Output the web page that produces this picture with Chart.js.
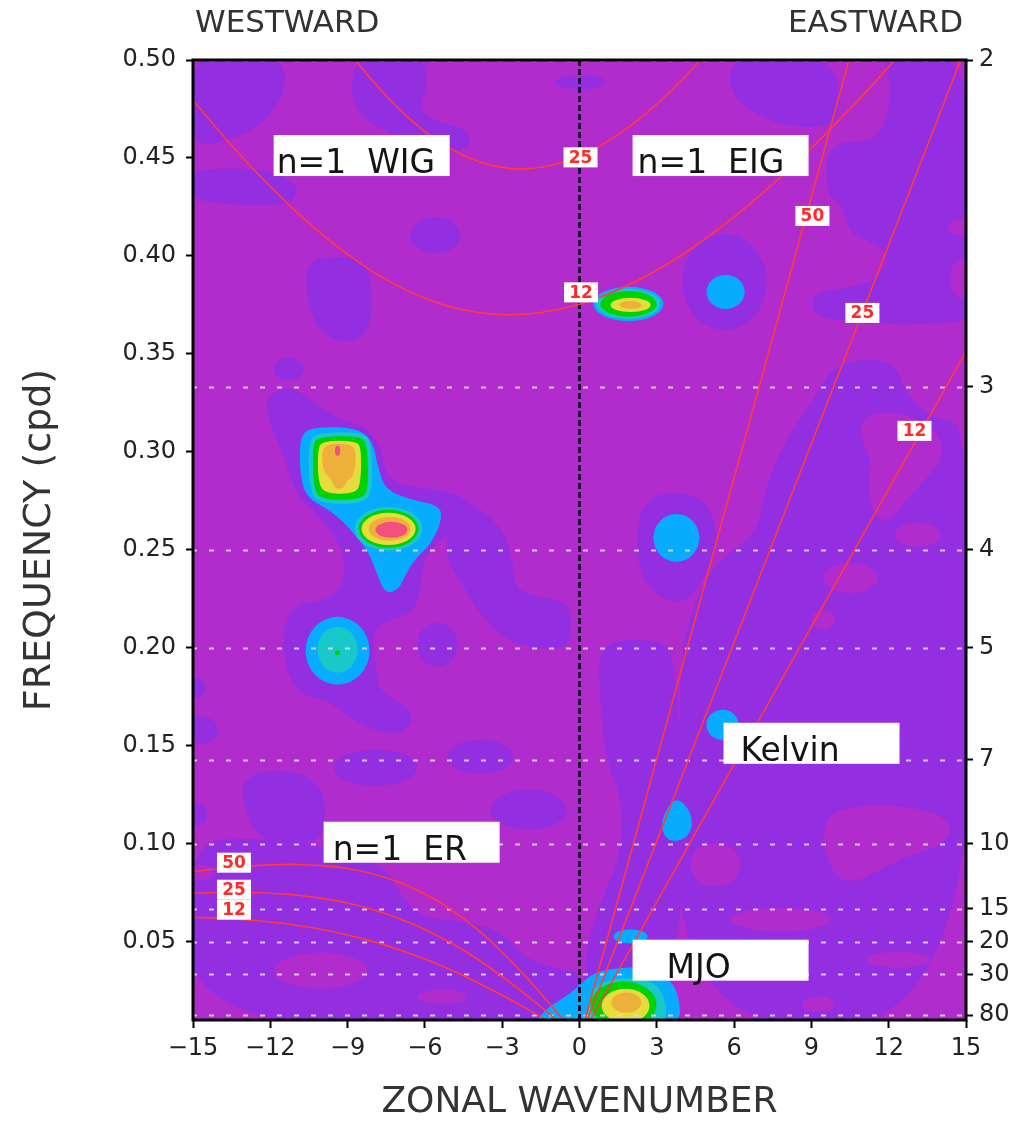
<!DOCTYPE html>
<html>
<head>
<meta charset="utf-8">
<script src="https://cdn.jsdelivr.net/npm/chart.js@4.4.1/dist/chart.umd.min.js"></script>
<style>
  html, body { margin: 0; padding: 0; background: #ffffff; }
  canvas { display: block; }
</style>
</head>
<body>
<canvas id="wk" width="1014" height="1121"></canvas>
<script>
// ---------- axes ----------
const wavenumberTicks = [-15, -12, -9, -6, -3, 0, 3, 6, 9, 12, 15];
const frequencyTicks = [0.05, 0.10, 0.15, 0.20, 0.25, 0.30, 0.35, 0.40, 0.45, 0.50];
const periodDays = [2, 3, 4, 5, 7, 10, 15, 20, 30, 80];

// ---------- dispersion curves, [zonal wavenumber, frequency cpd] ----------
const kelvinH12 = [[0, 0], [15, 0.3513]];
const kelvinH25 = [[0, 0], [15, 0.5070]];
const kelvinH50 = [[0, 0], [11, 0.5258]];

const erH12 = [[0,0],[-1,0.0078],[-2,0.0154],[-3,0.0226],[-4,0.0294],[-5,0.0356],[-6,0.0411],[-7,0.0459],[-8,0.0500],[-9,0.0534],[-10,0.0562],[-11,0.0584],[-12,0.0600],[-13,0.0612],[-14,0.0620],[-15,0.0624],[-16,0.0626]];
const erH25 = [[0,0],[-1,0.0112],[-2,0.0220],[-3,0.0322],[-4,0.0414],[-5,0.0494],[-6,0.0562],[-7,0.0618],[-8,0.0663],[-9,0.0697],[-10,0.0721],[-11,0.0738],[-12,0.0747],[-13,0.0751],[-14,0.0751],[-15,0.0746],[-16,0.0739]];
const erH50 = [[0,0],[-1,0.0158],[-2,0.0309],[-3,0.0446],[-4,0.0566],[-5,0.0665],[-6,0.0743],[-7,0.0803],[-8,0.0845],[-9,0.0873],[-10,0.0888],[-11,0.0894],[-12,0.0892],[-13,0.0884],[-14,0.0872],[-15,0.0857],[-16,0.0840]];

const igH12 = [[-16,0.4958],[-15,0.4795],[-13.5,0.4564],[-12,0.4354],[-10.5,0.4167],[-9,0.4008],[-7.5,0.3879],[-6,0.3784],[-4.5,0.3724],[-3,0.3700],[-1.5,0.3711],[0,0.3753],[1.5,0.3827],[3,0.3927],[4.5,0.4052],[6,0.4199],[7.5,0.4366],[9,0.4551],[10.5,0.4751],[12,0.4965],[13,0.5114]];
const igH25 = [[-9,0.5050],[-8,0.4889],[-7,0.4749],[-6,0.4635],[-5,0.4547],[-4,0.4486],[-3,0.4452],[-2,0.4445],[-1,0.4465],[0,0.4509],[1,0.4577],[2,0.4666],[3,0.4775],[4,0.4902],[5,0.5046],[6,0.5204]];

// ---------- normalized power field, contour regions per level ----------
// polygon: [[k, cpd], ...]   ellipse: [k, cpd, half-width k, half-height cpd]
const levelPurple = [
  [[-15.3,0.503],[-11.5,0.503],[-11.4,0.484],[-12.1,0.470],[-13.2,0.460],[-15.3,0.455]],
  [[-15.3,0.444],[-12.8,0.445],[-11.4,0.441],[-10.9,0.434],[-11.2,0.4265],[-12.8,0.4255],[-15.3,0.4286]],
  [[-8.7,0.503],[-6.0,0.503],[-5.9,0.485],[-6.25,0.4735],[-5.4,0.468],[-4.4,0.465],[-4.2,0.458],[-4.7,0.4525],[-5.8,0.454],[-7.1,0.461],[-8.3,0.469],[-8.9,0.480]],
  [-5.59,0.4107,0.97,0.0092],
  [[-10.6,0.397],[-9.5,0.4005],[-8.3,0.397],[-8.0,0.380],[-8.2,0.360],[-9.1,0.355],[-10.1,0.361],[-10.6,0.378]],
  [-11.29,0.3423,0.58,0.0056],
  [[-12.18,0.3276],[-11.41,0.3337],[-10.63,0.3291],[-9.47,0.3173],[-8.30,0.3128],[-7.72,0.3036],[-7.61,0.2908],[-7.02,0.2827],[-5.39,0.2806],[-4.42,0.2765],[-4.15,0.2679],[-4.54,0.2602],[-5.39,0.2551],[-5.98,0.2474],[-6.17,0.2321],[-6.36,0.2184],[-7.33,0.2143],[-8.03,0.2092],[-7.92,0.1939],[-7.80,0.1786],[-7.14,0.1735],[-6.48,0.1673],[-6.56,0.1582],[-7.53,0.1556],[-8.69,0.1622],[-9.66,0.1724],[-10.83,0.1760],[-11.41,0.1888],[-11.53,0.2092],[-11.14,0.2219],[-9.66,0.2245],[-9.08,0.2347],[-9.16,0.2500],[-9.97,0.2653],[-10.83,0.2755],[-11.21,0.2857],[-11.49,0.2985],[-12.07,0.3163]],
  [[-4.54,0.2755],[-3.65,0.2694],[-2.87,0.2577],[-2.6,0.2449],[-2.48,0.2296],[-1.51,0.2255],[-0.47,0.2235],[-0.27,0.2117],[-0.47,0.199],[-1.9,0.2],[-2.87,0.2041],[-3.84,0.2168],[-4.42,0.2296],[-5.08,0.2423],[-5.2,0.2551],[-4.81,0.2653]],
  [-5.51,0.2015,0.78,0.0112],
  [-14.7,0.158,0.66,0.0071],
  [-14.9,0.1796,0.39,0.0051],
  [[-13.16,0.1301],[-12.38,0.1378],[-10.83,0.1367],[-9.93,0.1276],[-9.86,0.1122],[-10.05,0.1010],[-11.6,0.0995],[-12.57,0.1046],[-12.96,0.1173]],
  [-7.92,0.1388,1.63,0.0092],
  [-3.84,0.1444,1.28,0.0087],
  [-1.98,0.1173,1.47,0.0102],
  [-14.9,0.1148,0.45,0.006],
  [[-15.3,0.1010],[-12.57,0.1031],[-10.05,0.0995],[-8.69,0.0929],[-7.53,0.0878],[-6.95,0.0740],[-6.17,0.0622],[-4.23,0.0602],[-2.87,0.0536],[-2.29,0.0434],[-1.13,0.0367],[0.23,0.0347],[0.23,0.005],[-15.3,0.005]],
  [0.04,0.4888,0.97,0.0036],
  [[5.78,0.4939],[6.3,0.503],[9.5,0.503],[10.21,0.4847],[9.97,0.4704],[9.74,0.4658],[7.99,0.4658],[6.71,0.4735],[5.94,0.4816]],
  [[11.68,0.503],[15.2,0.503],[15.2,0.4194],[14.40,0.4184],[14.20,0.4122],[15.2,0.4092],[15.2,0.3990],[14.40,0.3969],[14.40,0.3796],[15.2,0.3776],[15.2,0.3663],[12.46,0.3648],[10.90,0.3663],[9.08,0.3684],[9.00,0.3816],[10.52,0.3837],[11.68,0.3888],[11.99,0.4020],[11.29,0.4071],[10.44,0.4122],[10.24,0.4260],[9.62,0.4306],[9.55,0.4490],[9.97,0.4577],[10.90,0.4582],[11.68,0.4617],[11.99,0.4745],[12.07,0.4898]],
  [5.63,0.3867,1.63,0.0245],
  [[9.93,0.3459],[12.18,0.348],[12.65,0.3291],[13.81,0.3163],[15.2,0.3138],[15.2,0.005],[3.76,0.005],[3.84,0.1888],[4.31,0.2179],[4.97,0.2362],[5.55,0.2459],[6.91,0.2587],[7.22,0.2821],[7.99,0.3061],[9.04,0.3255]],
  [[0.70,0.2026],[2.76,0.2051],[3.92,0.1964],[4.0,0.005],[0.23,0.005],[0.16,0.0408],[0.81,0.0714],[1.59,0.0918],[1.67,0.1224],[1.01,0.1429],[0.81,0.1735]],
  [[2.76,0.2781],[4.31,0.2796],[5.16,0.2704],[5.39,0.2526],[4.89,0.2372],[4.31,0.2245],[3.45,0.2230],[2.56,0.2321],[2.21,0.2474],[2.25,0.2653]]
];
// low-power pockets lying inside the purple areas
const levelMagenta = [
  [-10.05,0.0352,1.82,0.0092],
  [-5.32,0.0219,0.97,0.0036],
  [-14.7,0.0852,0.54,0.0041],
  [[10.98,0.3189],[12.46,0.3204],[13.81,0.3122],[14.2,0.2985],[13.43,0.2857],[12.65,0.2755],[12.18,0.2653],[11.49,0.2653],[11.14,0.2806],[11.37,0.2949],[10.9,0.3071]],
  [13.12,0.2577,0.89,0.0061],
  [10.52,0.2357,1.05,0.0077],
  [9.47,0.2143,0.47,0.0051],
  [[9.62,0.1163],[11.29,0.1199],[13.23,0.1184],[14.47,0.1112],[14.2,0.0995],[12.84,0.0944],[11.68,0.0867],[10.44,0.0791],[9.74,0.0867],[9.43,0.1020]],
  [5.28,0.0893,0.97,0.0112],
  [7.80,0.0612,1.94,0.0061],
  [12.38,0.0408,1.24,0.0041],
  [9.27,0.0179,0.62,0.0041]
];
const levelBlue = [
  [[-10.83,0.3102],[-10.05,0.3128],[-8.69,0.3122],[-8.03,0.3061],[-7.80,0.2908],[-7.53,0.2806],[-6.56,0.2755],[-5.39,0.2724],[-5.36,0.2643],[-5.78,0.2526],[-6.36,0.2459],[-6.75,0.2372],[-7.02,0.2296],[-7.53,0.2276],[-7.80,0.2357],[-8.19,0.2490],[-8.69,0.2571],[-9.16,0.2643],[-9.74,0.2704],[-10.63,0.2770],[-10.87,0.2908]],
  [-9.39,0.1985,1.24,0.0173],
  [1.90,0.3755,1.36,0.0087],
  [5.67,0.3816,0.74,0.0087],
  [3.76,0.2561,0.89,0.0122],
  [5.55,0.1607,0.62,0.0077],
  [[3.76,0.1235],[4.23,0.1184],[4.42,0.1097],[4.11,0.1020],[3.45,0.1010],[3.14,0.1082],[3.34,0.1173]],
  [1.98,0.0526,0.66,0.0036],
  [[-1.98,0.005],[-1.32,0.0153],[-0.74,0.0204],[-0.16,0.0255],[0.43,0.0332],[1.20,0.0362],[2.37,0.0372],[3.34,0.0332],[3.88,0.0230],[3.92,0.005]]
];
const levelTeal = [
  [[-10.21,0.3097],[-8.42,0.3102],[-8.07,0.3046],[-8.03,0.2796],[-8.42,0.2735],[-10.05,0.2735],[-10.48,0.2796],[-10.52,0.3046]],
  [-7.41,0.2607,1.32,0.0112],
  [-9.39,0.1990,0.78,0.0117],
  [1.90,0.3755,1.24,0.0077],
  [[0.27,0.005],[0.35,0.0245],[1.13,0.0311],[2.56,0.0316],[3.30,0.0245],[3.42,0.005]]
];
const levelGreen = [
  [[-10.13,0.3077],[-8.50,0.3082],[-8.23,0.3036],[-8.19,0.2806],[-8.50,0.2755],[-9.97,0.2755],[-10.32,0.2806],[-10.36,0.3036]],
  [-7.41,0.2607,1.16,0.0097],
  [-9.39,0.1975,0.1,0.0012],
  [1.90,0.3755,1.09,0.0066],
  [1.71,0.0179,1.28,0.0117]
];
const levelYellow = [
  [[-9.97,0.3056],[-8.65,0.3056],[-8.46,0.3010],[-8.50,0.2821],[-8.81,0.2786],[-9.78,0.2786],[-10.13,0.2827],[-10.17,0.3010]],
  [-7.41,0.2607,1.05,0.0082],
  [1.98,0.3750,0.78,0.0036],
  [1.79,0.0173,0.93,0.0087]
];
const levelOrange = [
  [[-9.86,0.3041],[-8.81,0.3041],[-8.65,0.2985],[-8.77,0.2872],[-9.04,0.2852],[-9.16,0.2811],[-9.51,0.2811],[-9.62,0.2862],[-9.93,0.2893],[-10.01,0.2985]],
  [-7.37,0.2607,0.81,0.0061],
  [1.98,0.375,0.43,0.002],
  [1.82,0.0189,0.58,0.0051]
];
const levelRed = [
  [-9.39,0.3005,0.1,0.0026],
  [-7.30,0.2602,0.62,0.0041]
];

// ---------- text ----------
const regionNames = ['n=1  WIG', 'n=1  EIG', 'n=1  ER', 'Kelvin', 'MJO'];
const depthNames = ['25', '12', '50', '25', '12', '50', '25', '12'];

// ---------- styling / placement ----------
const FONT = "'DejaVu Sans', 'Liberation Sans', sans-serif";
const FIELD_BASE = '#b12ccd';
const FIELD_LAYERS = [
  [levelPurple, '#932fe0'],
  [levelMagenta, '#b12ccd'],
  [levelBlue, '#08acff'],
  [levelTeal, '#19c8c8'],
  [levelGreen, '#00d200'],
  [levelYellow, '#e6dc3c'],
  [levelOrange, '#eeb03a'],
  [levelRed, '#f2507e']
];
const regionBoxAnchors = [[-11.87, 0.4617], [2.06, 0.4617], [-9.93, 0.1112], [5.59, 0.1617], [2.06, 0.0510]];
const regionTextInset = [3, 5, 9, 17, 34];
const depthLabelAnchors = [[0.04, 0.4503], [0.06, 0.3814], [9.04, 0.4204], [10.98, 0.3709], [13.0, 0.3107], [-13.41, 0.0903], [-13.41, 0.0765], [-13.41, 0.0663]];

function tracePath(ctx, shape, xs, ys) {
  if (typeof shape[0] === 'number') {
    const [k, f, rk, rf] = shape;
    const cx = xs.getPixelForValue(k), cy = ys.getPixelForValue(f);
    const rx = Math.abs(xs.getPixelForValue(k + rk) - cx);
    const ry = Math.abs(ys.getPixelForValue(f + rf) - cy);
    ctx.ellipse(cx, cy, rx, ry, 0, 0, Math.PI * 2);
    return;
  }
  const p = shape.map(([k, f]) => [xs.getPixelForValue(k), ys.getPixelForValue(f)]);
  const n = p.length;
  const mid = (a, b) => [(a[0] + b[0]) / 2, (a[1] + b[1]) / 2];
  const m0 = mid(p[n - 1], p[0]);
  ctx.moveTo(m0[0], m0[1]);
  for (let i = 0; i < n; i++) {
    const q = mid(p[i], p[(i + 1) % n]);
    ctx.quadraticCurveTo(p[i][0], p[i][1], q[0], q[1]);
  }
  ctx.closePath();
}

const fieldPlugin = {
  id: 'powerField',
  beforeDatasetsDraw(chart) {
    const { ctx, chartArea: a, scales: { x, y } } = chart;
    ctx.save();
    ctx.beginPath();
    ctx.rect(a.left, a.top, a.right - a.left, a.bottom - a.top);
    ctx.clip();
    ctx.fillStyle = FIELD_BASE;
    ctx.fillRect(a.left, a.top, a.right - a.left, a.bottom - a.top);
    FIELD_LAYERS.forEach(([shapes, color]) => {
      ctx.fillStyle = color;
      shapes.forEach(s => { ctx.beginPath(); tracePath(ctx, s, x, y); ctx.fill(); });
    });
    // dotted lines at the marked periods
    ctx.strokeStyle = 'rgba(222,214,228,0.9)';
    ctx.lineWidth = 2.2;
    ctx.setLineDash([5, 12]);
    ctx.lineDashOffset = -16;
    periodDays.forEach(p => {
      const py = Math.round(y.getPixelForValue(1 / p)) + 0.5;
      ctx.beginPath(); ctx.moveTo(a.left, py); ctx.lineTo(a.right, py); ctx.stroke();
    });
    // zero wavenumber
    const x0 = x.getPixelForValue(0);
    ctx.strokeStyle = '#200830';
    ctx.lineWidth = 3;
    ctx.setLineDash([6, 3]);
    ctx.lineDashOffset = 0;
    ctx.beginPath(); ctx.moveTo(x0, a.top); ctx.lineTo(x0, a.bottom); ctx.stroke();
    ctx.restore();
  }
};

const overlayPlugin = {
  id: 'overlay',
  afterDatasetsDraw(chart) {
    const { ctx, chartArea: a, scales: { x, y } } = chart;
    ctx.save();
    // depth labels on the dispersion curves
    ctx.font = 'bold 17px ' + FONT;
    ctx.textAlign = 'center';
    ctx.textBaseline = 'middle';
    depthNames.forEach((t, i) => {
      const cx = x.getPixelForValue(depthLabelAnchors[i][0]);
      const cy = y.getPixelForValue(depthLabelAnchors[i][1]);
      ctx.fillStyle = '#ffffff';
      ctx.fillRect(cx - 17, cy - 10, 34, 20);
      ctx.fillStyle = '#ff2a2a';
      ctx.fillText(t, cx, cy + 1);
    });
    // wave-type boxes
    ctx.font = '33px ' + FONT;
    ctx.textAlign = 'left';
    ctx.textBaseline = 'alphabetic';
    regionNames.forEach((t, i) => {
      const bx = x.getPixelForValue(regionBoxAnchors[i][0]);
      const by = y.getPixelForValue(regionBoxAnchors[i][1]);
      ctx.fillStyle = '#ffffff';
      ctx.fillRect(bx, by, 176, 41);
      ctx.fillStyle = '#141414';
      ctx.fillText(t, bx + regionTextInset[i], by + 38);
    });
    // frame
    ctx.strokeStyle = '#000000';
    ctx.lineWidth = 3;
    ctx.strokeRect(a.left, a.top, a.right - a.left, a.bottom - a.top);
    ctx.restore();
  },
  afterDraw(chart) {
    const { ctx, chartArea: a } = chart;
    ctx.save();
    ctx.font = '31px ' + FONT;
    ctx.fillStyle = '#333333';
    ctx.textBaseline = 'middle';
    ctx.textAlign = 'left';
    ctx.fillText('WESTWARD', a.left + 2, 24);
    ctx.textAlign = 'right';
    ctx.fillText('EASTWARD', a.right - 3, 24);
    ctx.restore();
  }
};

const curve = pts => ({
  data: pts.map(([k, f]) => ({ x: k, y: f })),
  showLine: true,
  borderColor: '#ff3c3c',
  borderWidth: 1.6,
  pointRadius: 0,
  tension: 0.3,
  yAxisID: 'y'
});

const tickGrid = len => ({
  display: true, drawOnChartArea: false, drawTicks: true,
  tickLength: len, tickColor: '#000000', tickWidth: 2
});

new Chart(document.getElementById('wk'), {
  type: 'scatter',
  data: {
    datasets: [kelvinH12, kelvinH25, kelvinH50, erH12, erH25, erH50, igH12, igH25].map(curve)
  },
  options: {
    responsive: false,
    animation: false,
    devicePixelRatio: 1,
    layout: { padding: { top: 60, left: 0, right: 0, bottom: 0 } },
    plugins: { legend: { display: false }, tooltip: { enabled: false } },
    scales: {
      x: {
        type: 'linear', position: 'bottom', min: -15, max: 15,
        afterBuildTicks: s => { s.ticks = wavenumberTicks.map(v => ({ value: v })); },
        afterFit: s => { s.height = 101; },
        grid: tickGrid(8),
        border: { display: false },
        ticks: {
          color: '#222222', font: { family: FONT, size: 24 }, padding: 6,
          autoSkip: false, maxRotation: 0,
          callback: v => (v < 0 ? '\u2212' + Math.abs(v) : String(v))
        },
        title: {
          display: true, text: 'ZONAL WAVENUMBER', color: '#333333',
          font: { family: FONT, size: 36, lineHeight: 1 }, padding: { top: 0, bottom: 0 }
        }
      },
      y: {
        type: 'linear', position: 'left', min: 0.01, max: 0.5,
        afterBuildTicks: s => { s.ticks = frequencyTicks.map(v => ({ value: v })); },
        afterFit: s => { s.width = 193; },
        grid: tickGrid(7),
        border: { display: false },
        ticks: {
          color: '#222222', font: { family: FONT, size: 24 }, padding: 10, autoSkip: false,
          callback: v => v.toFixed(2)
        },
        title: {
          display: true, text: 'FREQUENCY (cpd)', color: '#333333',
          font: { family: FONT, size: 38, lineHeight: 1 }, padding: { top: 21, bottom: 0 }
        }
      },
      y2: {
        type: 'linear', position: 'right', min: 0.01, max: 0.5,
        afterBuildTicks: s => { s.ticks = periodDays.map(p => ({ value: 1 / p })); },
        afterFit: s => { s.width = 48; },
        grid: tickGrid(7),
        border: { display: false },
        ticks: {
          color: '#222222', font: { family: FONT, size: 24 }, padding: 6, autoSkip: false,
          callback: (v, i) => String(periodDays[i])
        }
      }
    }
  },
  plugins: [fieldPlugin, overlayPlugin]
});
</script>
</body>
</html>
